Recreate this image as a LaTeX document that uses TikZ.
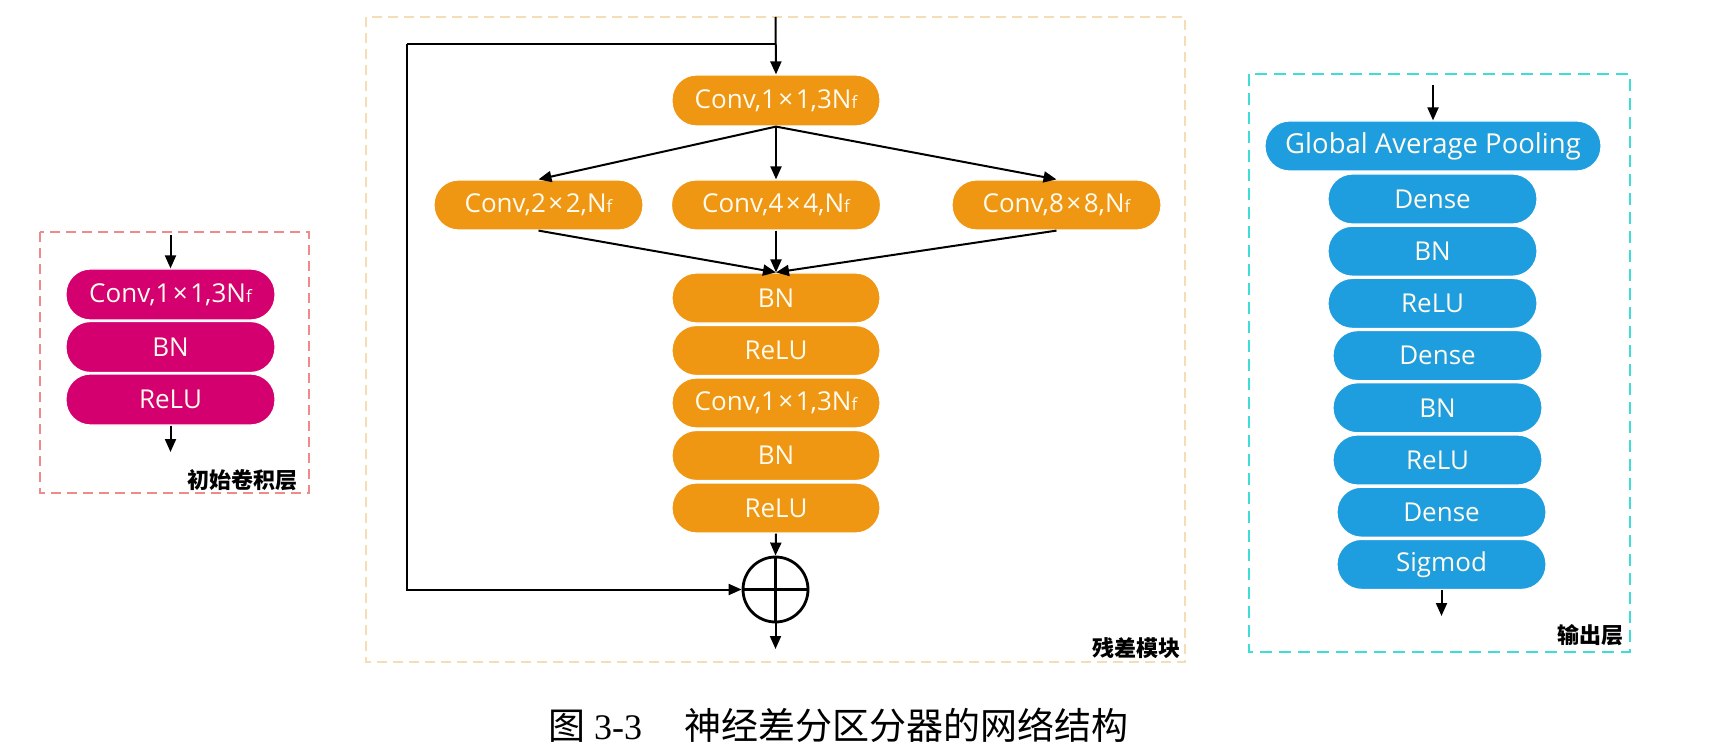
\documentclass[tikz,border=0pt]{standalone}
\usepackage{fontspec}
\usetikzlibrary{arrows.meta}
\newfontfamily\boxfont{Open Sans}
\newfontfamily\cjk{Noto Sans CJK SC}
\newfontfamily\serifnum{Liberation Serif}
\definecolor{cmag}{HTML}{D4006F}
\definecolor{corg}{HTML}{EF9612}
\definecolor{cblu}{HTML}{1E9DDF}
\definecolor{cred}{HTML}{EE8A8A}
\definecolor{cwht}{HTML}{F5DDB5}
\definecolor{ccyn}{HTML}{40DDD8}
\definecolor{ctxt}{HTML}{FFFBEE}
\newcommand{\Nf}{N{\fontsize{17}{17}\selectfont f}}
\newcommand{\tms}{\hspace{2.5pt}×\hspace{2.5pt}}
\tikzset{
  pill/.style={draw=white, line width=1.2pt, rounded corners=24.5pt, minimum width=209pt,
    minimum height=50pt, inner sep=0pt, text=ctxt, font=\boxfont\fontsize{26}{26}\selectfont},
  magpill/.style={pill, fill=cmag},
  orgpill/.style={pill, fill=corg},
  blupill/.style={pill, fill=cblu},
  arr/.style={line width=2pt, -{Triangle[length=13pt,width=11pt]}},
  plain/.style={line width=2pt},
  frame/.style={line width=1.6pt, dash pattern=on 10pt off 6pt},
  lbl/.style={anchor=east, inner sep=0pt, font=\cjk\bfseries\fontsize{22}{22}\selectfont}
}
\begin{document}
\begin{tikzpicture}[x=1pt,y=-1pt]
\useasboundingbox[fill=white] (0,0) rectangle (1713,751);

% ---------- left panel ----------
\draw[frame, cred] (40,232) rectangle (309,493);
\node[magpill, minimum height=51pt] (l1) at (170.5,294.5) {Conv,1\tms1,3\Nf};
\node[magpill, minimum height=51pt] (l2) at (170.5,347) {BN};
\node[magpill, minimum height=51pt] (l3) at (170.5,399.5) {ReLU};
\coordinate (lin) at (170.5,235);
\coordinate (lout) at (170.5,452);
\draw[arr] (lin) -- (l1.north);
\draw[arr] (l3.south) -- (lout);
\node[lbl] (llab) at (298,480) {初始卷积层};

% ---------- middle panel ----------
\draw[frame, cwht] (366,17) rectangle (1185,662);
\node[orgpill, minimum width=208pt, minimum height=51pt] (c1) at (776,100.5) {Conv,1\tms1,3\Nf};
\node[orgpill] (c2) at (538.5,205) {Conv,2\tms2,\Nf};
\node[orgpill] (c4) at (776,205) {Conv,4\tms4,\Nf};
\node[orgpill] (c8) at (1056.5,205) {Conv,8\tms8,\Nf};
\node[orgpill, minimum width=208pt] (s1) at (776,298) {BN};
\node[orgpill, minimum width=208pt] (s2) at (776,350.5) {ReLU};
\node[orgpill, minimum width=208pt] (s3) at (776,403) {Conv,1\tms1,3\Nf};
\node[orgpill, minimum width=208pt] (s4) at (776,455.5) {BN};
\node[orgpill, minimum width=208pt] (s5) at (776,508) {ReLU};
\node[circle, draw, line width=2.8pt, minimum size=65pt, inner sep=0pt] (plus) at (775.5,589.5) {};
\draw[line width=2.8pt] (plus.north) -- (plus.south) (plus.west) -- (plus.east);
\coordinate (ctop) at (775.5,17);
\coordinate (sk) at (775.5,44);
\coordinate (skl) at (407,44);
\coordinate (cout) at (775.5,649);
\draw[arr] (ctop) -- (c1.north);
\draw[plain] (sk) -- (skl);
\draw[arr] (skl) |- (plus.west);
\draw[arr] (c1.south) -- (c2.north);
\draw[arr] (c1.south) -- (c4.north);
\draw[arr] (c1.south) -- (c8.north);
\draw[arr] (c2.south) -- (s1.north);
\draw[arr] (c4.south) -- (s1.north);
\draw[arr] (c8.south) -- (s1.north);
\draw[arr] (s5.south) -- (plus.north);
\draw[arr] (plus.south) -- (cout);
\node[lbl] (clab) at (1181,648) {残差模块};

% ---------- right panel ----------
\draw[frame, ccyn, dash pattern=on 12pt off 7pt] (1249,74) rectangle (1630,652);
\node[blupill, minimum width=336pt, font=\boxfont\fontsize{27.5}{27.5}\selectfont] (g) at (1433,146) {Global Average Pooling};
\node[blupill] (r1) at (1432.5,199) {Dense};
\node[blupill] (r2) at (1432.5,251.2) {BN};
\node[blupill] (r3) at (1432.5,303.4) {ReLU};
\node[blupill] (r4) at (1437.5,355.6) {Dense};
\node[blupill] (r5) at (1437.5,407.8) {BN};
\node[blupill] (r6) at (1437.5,460) {ReLU};
\node[blupill] (r7) at (1441.5,512.2) {Dense};
\node[blupill] (r8) at (1441.5,564.4) {Sigmod};
\coordinate (rin) at (1433,85);
\coordinate (rout) at (1441.5,616);
\draw[arr] (rin) -- (g.north);
\draw[arr] (r8.south) -- (rout);
\node[lbl] (rlab) at (1624,635) {输出层};

% ---------- caption ----------
\node[anchor=west, inner sep=0pt] (cap) at (548,725)
  {{\cjk\fontsize{37}{37}\selectfont 图}\hspace{9pt}{\serifnum\fontsize{36}{36}\selectfont 3-3}\hspace{42pt}{\cjk\fontsize{37}{37}\selectfont 神经差分区分器的网络结构}};
\end{tikzpicture}
\end{document}
